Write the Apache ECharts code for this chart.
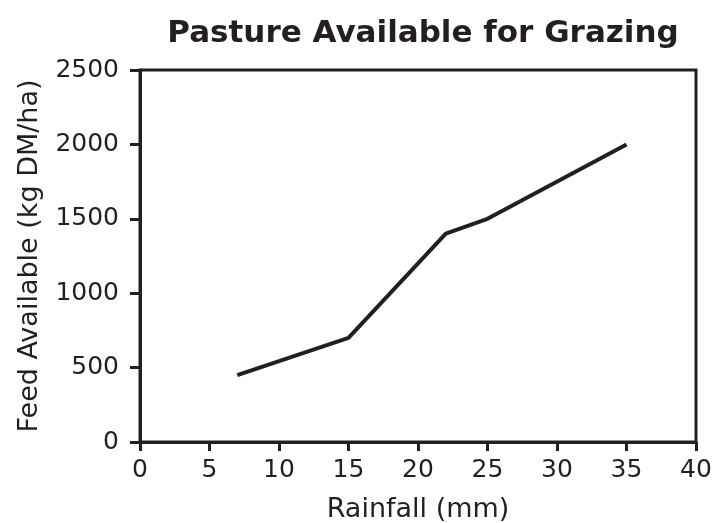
<!DOCTYPE html>
<html><head><meta charset="utf-8">
<script src="https://cdn.jsdelivr.net/npm/echarts@6/dist/echarts.min.js"></script>
<style>html,body{margin:0;padding:0;background:#fff}#c{width:715px;height:523px}</style>
</head><body><div id="c"></div>
<script>
const rainfall = [7, 15, 22, 25, 35];
const feed = [450, 700, 1400, 1500, 2000];
const titleText = 'Pasture Available for Grazing';
const xName = 'Rainfall (mm)';
const yName = 'Feed Available (kg DM/ha)';
const ink = '#231f20';
const font = 'DejaVu Sans';
const chart = echarts.init(document.getElementById('c'));
chart.setOption({
  animation: false,
  backgroundColor: '#fff',
  title: { text: titleText, left: 418, textAlign: 'center', top: 13,
    textStyle: { fontFamily: font, fontWeight: 'bold', fontSize: 31, color: ink } },
  grid: { left: 140, right: 19, top: 70, bottom: 81, containLabel: false, outerBoundsMode: 'none',
    show: true, borderColor: ink, borderWidth: 3, backgroundColor: 'transparent' },
  xAxis: { type: 'value', min: 0, max: 40, interval: 5,
    name: xName, nameLocation: 'middle', nameGap: 54,
    nameTextStyle: { fontFamily: font, fontSize: 27, color: ink },
    axisLine: { show: true, onZero: false, lineStyle: { color: ink, width: 3 } },
    axisTick: { show: true, length: 9, lineStyle: { color: ink, width: 3 } },
    axisLabel: { fontFamily: font, fontSize: 25, color: ink, margin: 16,
      formatter: v => String(v) },
    splitLine: { show: false } },
  yAxis: { type: 'value', min: 0, max: 2500, interval: 500,
    name: yName, nameLocation: 'middle', nameGap: 97, nameRotate: 90,
    nameTextStyle: { fontFamily: font, fontSize: 27, color: ink },
    axisLine: { show: true, onZero: false, lineStyle: { color: ink, width: 3 } },
    axisTick: { show: true, length: 10, lineStyle: { color: ink, width: 3 } },
    axisLabel: { fontFamily: font, fontSize: 25, color: ink, margin: 21,
      formatter: v => String(v) },
    splitLine: { show: false } },
  series: [{ type: 'line', data: rainfall.map((x, i) => [x, feed[i]]),
    showSymbol: false, symbol: 'none',
    lineStyle: { color: ink, width: 4 } }]
});
</script></body></html>
